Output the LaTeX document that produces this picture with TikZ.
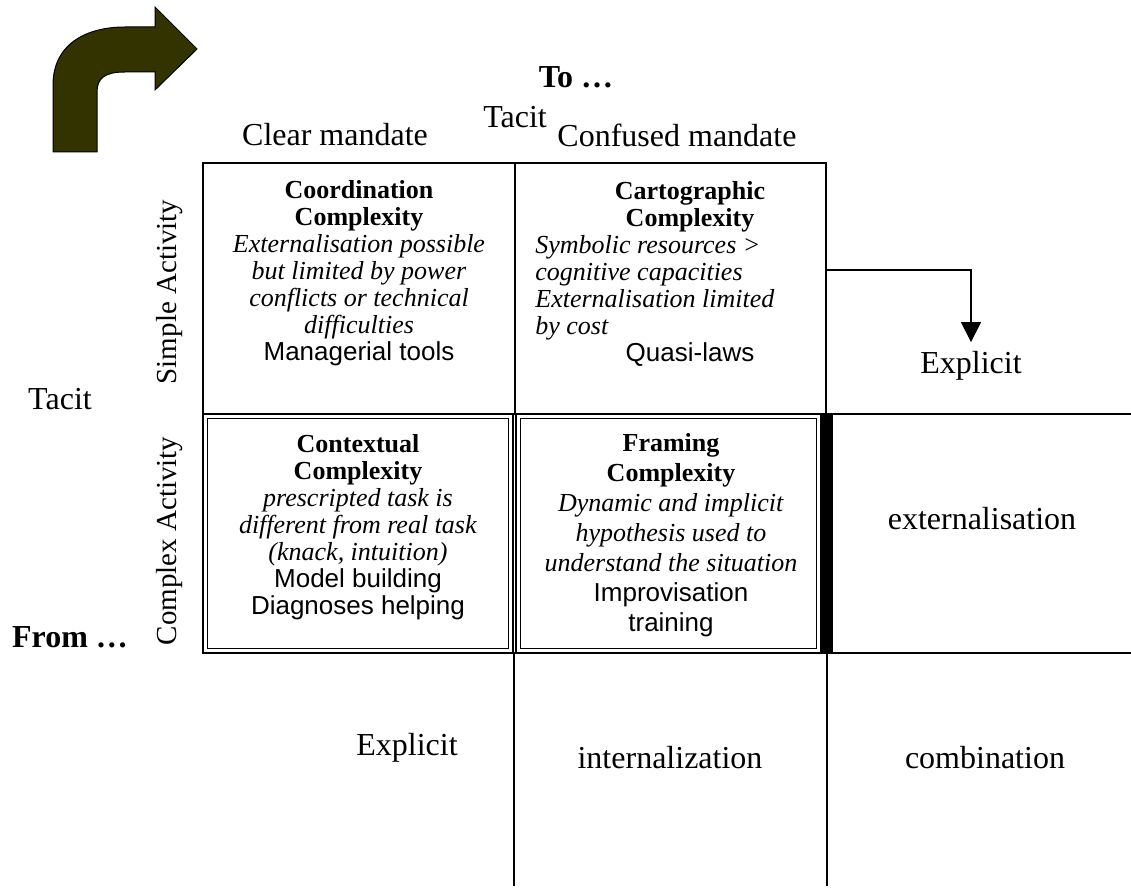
\documentclass[tikz,border=0pt]{standalone}
\usepackage{fontspec}
\setmainfont{Liberation Serif}
\newfontfamily\arialfont{Liberation Sans}
\usetikzlibrary{arrows.meta}
\definecolor{arrowolive}{RGB}{51,51,0}
\begin{document}
\begin{tikzpicture}[x=0.5pt,y=-0.5pt,
  lbl/.style={inner sep=0pt,font=\fontsize{16}{19}\selectfont},
  boldlbl/.style={inner sep=0pt,font=\fontsize{16}{19}\selectfont\bfseries},
  side/.style={inner sep=0pt,font=\fontsize{14.5}{17}\selectfont},
  cell/.style={inner sep=0pt,align=center,font=\fontsize{13}{13.5}\selectfont},
  body/.style={inner sep=0pt,align=left,font=\fontsize{13}{13.5}\selectfont\itshape},
  grid/.style={line width=0.65pt},
  dbl/.style={double,line width=0.65pt,double distance=1.6pt}]
\useasboundingbox (0,0) rectangle (1131,888);
% bent arrow top left
\filldraw[fill=arrowolive,draw=black,line width=0.5pt] (53,152)--(53,85) .. controls (53,45) and (85,27) .. (125,27)--(155,27)--(155,7)--(197,49)--(155,90)--(155,72)--(125,72) .. controls (105,72) and (97,78) .. (97,92)--(97,152)--cycle;
% table lines
\draw[grid] (203,163) rectangle (826,414);
\draw[grid] (515,163) -- (515,414);
\draw[grid] (826,414) -- (1131,414);
\draw[grid] (203,653) -- (1131,653);
\draw[grid] (514,653) -- (514,886);
\draw[grid] (827,653) -- (827,886);
\draw[dbl] (205.25,416.25) rectangle (510.75,650.75);
\draw[dbl] (518.25,416.25) rectangle (818.75,650.75);
\fill (821,414) rectangle (833,654);
% headings
\node[boldlbl] (toLbl) at (576,77) {To …};
\node[lbl] (tacitTop) at (515,117) {Tacit};
\node[lbl] (clearLbl) at (335,135) {Clear mandate};
\node[lbl] (confusedLbl) at (677,135) {Confused mandate};
\node[side,rotate=90] (simpleLbl) at (170,292) {Simple Activity};
\node[side,rotate=90] (complexLbl) at (170,541) {Complex Activity};
\node[lbl] (tacitLeft) at (60,399) {Tacit};
\node[boldlbl] (fromLbl) at (70,637) {From …};
% cells
\node[cell] (coordCell) at (359,273.5) {{\bfseries Coordination}\\{\bfseries Complexity}\\\textit{Externalisation possible}\\\textit{but limited by power}\\\textit{conflicts or technical}\\\textit{difficulties}\\{\arialfont Managerial tools}};
\node[cell] (cartoHead) at (690,207) {{\bfseries Cartographic}\\{\bfseries Complexity}};
\node[body,anchor=west] (cartoBody) at (535,288) {Symbolic resources >\\cognitive capacities\\Externalisation limited\\by cost};
\node[cell] (cartoTool) at (690,355) {\arialfont Quasi-laws};
\node[cell] (contextCell) at (358,527.5) {{\bfseries Contextual}\\{\bfseries Complexity}\\\textit{prescripted task is}\\\textit{different from real task}\\\textit{(knack, intuition)}\\{\arialfont Model building}\\{\arialfont Diagnoses helping}};
\node[cell,font=\fontsize{13}{15}\selectfont] (framingCell) at (671,535) {{\bfseries Framing}\\{\bfseries Complexity}\\\textit{Dynamic and implicit}\\\textit{hypothesis used to}\\\textit{understand the situation}\\{\arialfont Improvisation}\\{\arialfont training}};
% modes
\node[lbl] (explicitRight) at (971,366) {Explicit};
\node[lbl] (externLbl) at (982,519) {externalisation};
\node[lbl] (explicitBottom) at (407,748) {Explicit};
\node[lbl] (internLbl) at (670,758) {internalization};
\node[lbl] (combLbl) at (985,758) {combination};
\coordinate (arrowStart) at (826,270);
\draw[grid,-{Triangle[width=10pt,length=10pt]},shorten >=4.5pt] (arrowStart) -| (explicitRight.north);
\end{tikzpicture}
\end{document}
